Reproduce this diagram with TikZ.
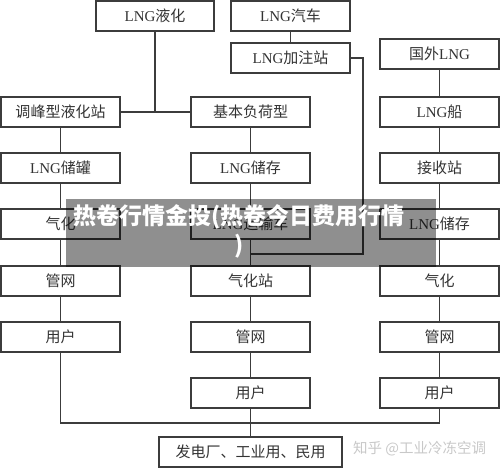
\documentclass[tikz,border=0pt]{standalone}
\usepackage{fontspec}
\setmainfont{Liberation Serif}
\newfontfamily\cjk{Noto Sans CJK SC}
\newcommand{\zh}[1]{{\cjk #1}}
\definecolor{lncol}{HTML}{3C3C3C}
\definecolor{txtcol}{HTML}{333333}
\definecolor{wmcol}{HTML}{C8C8C8}
\begin{document}
\begin{tikzpicture}[x=1pt,y=-1pt,
  box/.style={draw=lncol, line width=1.1pt, minimum width=119pt, minimum height=30pt,
    inner sep=0pt, text=txtcol, font=\fontsize{15}{15}\selectfont},
  conn/.style={draw=lncol, line width=1.1pt}]
\useasboundingbox (0,0) rectangle (500,468);
% top row
\node[box, minimum width=118pt] (liq) at (155,16) {LNG\zh{液化}};
\node[box] (car) at (290.5,16) {LNG\zh{汽车}};
\node[box] (fill) at (290.5,58) {LNG\zh{加注站}};
% column 1
\node[box] (a1) at (60.5,112) {\zh{调峰型液化站}};
\node[box] (a2) at (60.5,168) {LNG\zh{储罐}};
\node[box] (a3) at (60.5,224) {\zh{气化}};
\node[box] (a4) at (60.5,281) {\zh{管网}};
\node[box] (a5) at (60.5,337) {\zh{用户}};
% column 2
\node[box] (b1) at (250.5,112) {\zh{基本负荷型}};
\node[box] (b2) at (250.5,168) {LNG\zh{储存}};
\node[box] (b3) at (250.5,224) {LNG\zh{运输车}};
\node[box] (b4) at (250.5,281) {\zh{气化站}};
\node[box] (b5) at (250.5,337) {\zh{管网}};
\node[box] (b6) at (250.5,393) {\zh{用户}};
\node[box, minimum width=183pt] (fin) at (250.5,452) {\zh{发电厂、工业用、民用}};
% column 3
\node[box] (c1) at (439.5,54) {\zh{国外}LNG};
\node[box] (c2) at (439.5,112) {LNG\zh{船}};
\node[box] (c3) at (439.5,168) {\zh{接收站}};
\node[box] (c4) at (439.5,224) {LNG\zh{储存}};
\node[box] (c5) at (439.5,281) {\zh{气化}};
\node[box] (c6) at (439.5,337) {\zh{管网}};
\node[box] (c7) at (439.5,393) {\zh{用户}};
% helper coordinates
\coordinate (jr) at (363,254);
\coordinate (bot) at (0,423);
% connectors
\draw[conn] (liq.south) -- (liq.south |- a1.east);
\draw[conn] (a1.east) -- (b1.west);
\draw[conn] (car) -- (fill);
\draw[conn] (fill.east) -| (jr) -- (jr -| b3.south);
\draw[conn] (a1) -- (a2) -- (a3) -- (a4) -- (a5);
\draw[conn] (a5.south) -- (a5.south |- bot) -- (bot -| c7.south) -- (c7.south);
\draw[conn] (b1) -- (b2) -- (b3) -- (b4) -- (b5) -- (b6) -- (fin);
\draw[conn] (c1) -- (c2) -- (c3) -- (c4) -- (c5) -- (c6) -- (c7);
% overlay band
\fill[black, opacity=0.44] (66,199) rectangle (436,267);
\node[text=white, align=center, inner sep=0pt, font=\cjk\bfseries\fontsize{23}{29}\selectfont] (ov) at (239,231)
  {热卷行情金投(热卷今日费用行情\\)};
% watermark
\node[text=wmcol, inner sep=0pt, font=\cjk\fontsize{14.5}{15}\selectfont, anchor=west] (wm) at (353,449) {知乎 @工业冷冻空调};
\end{tikzpicture}
\end{document}
